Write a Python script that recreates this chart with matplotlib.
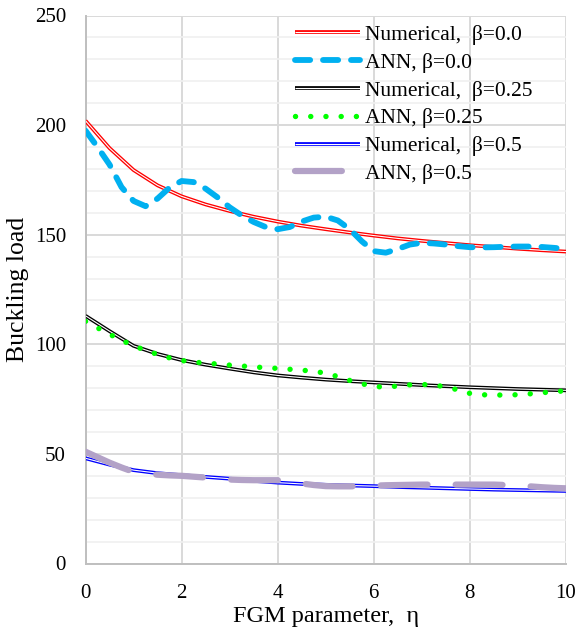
import numpy as np
import matplotlib
matplotlib.use("Agg")
import matplotlib.pyplot as plt
from matplotlib.ticker import MultipleLocator

plt.rcParams['font.family'] = ['Liberation Serif', 'DejaVu Serif']

# FGM parameter sampled every 0.5
eta = np.arange(0, 10.01, 0.5)

num_b00 = [202, 189.5, 179.5, 172.5, 167.5, 163.8, 160.8, 158.2, 156, 154.1, 152.5,
           151, 149.6, 148.3, 147.2, 146.2, 145.2, 144.4, 143.6, 142.9, 142.3]
num_b025 = [113, 106, 99.3, 95.6, 92.8, 90.7, 88.9, 87.2, 85.8, 84.8, 83.9,
            83.2, 82.6, 82.0, 81.4, 80.9, 80.4, 80.0, 79.6, 79.3, 79.0]
num_b05 = [48, 45.1, 42.6, 41.2, 40.3, 39.5, 38.7, 37.7, 36.9, 36.3, 35.9,
           35.6, 35.3, 34.9, 34.6, 34.3, 34.0, 33.7, 33.5, 33.3, 33.1]

# ANN predictions, sampled every 0.25
eta_ann = np.arange(0, 10.01, 0.25)
ann_b00 = [197.5, 190, 182, 171.7, 165.4, 163, 166.5, 171.5, 174.5, 174, 171,
           167, 162.5, 158.8, 155.8, 153.5, 152.5, 153.5, 156, 157.8, 158.2,
           156.5, 152.5, 147, 142.5, 141.8, 143.5, 145.5, 146.3, 146, 145.5,
           144.8, 144.3, 144.2, 144.3, 144.5, 144.6, 144.6, 144.4, 144, 143.5]
ann_b025 = [110.5, 107.5, 104.6, 101.8, 99.4, 97.2, 95.4, 93.8, 92.6, 91.9, 91.4,
            91.0, 90.5, 90.1, 89.7, 89.3, 89.0, 88.6, 88.2, 87.7, 86.8, 85.3,
            83.5, 82.0, 80.8, 80.4, 81.0, 81.5, 81.7, 81.4, 80.6, 79.2, 77.6,
            77.0, 76.8, 76.9, 77.0, 77.4, 77.9, 78.4, 78.8]
ann_b05 = [51, 48.5, 46, 43.8, 41.8, 41.0, 40.5, 40.2, 40.0, 39.6, 39.2, 38.7,
           38.3, 38.1, 38.0, 38.0, 38.0, 37.3, 36.5, 35.8, 35.3, 35.2, 35.2,
           35.3, 35.5, 35.7, 35.8, 35.9, 36.0, 36.0, 36.0, 36.0, 36.0, 36.0,
           36.0, 35.8, 35.5, 35.2, 34.8, 34.5, 34.3]

labels = ['Numerical,  β=0.0', 'ANN, β=0.0', 'Numerical,  β=0.25',
          'ANN, β=0.25', 'Numerical,  β=0.5', 'ANN, β=0.5']

fig = plt.figure(figsize=(5.79, 6.30), dpi=100)
ax = fig.add_axes([85.5/579, 1-563.5/630, 480.5/579, 548/630])


def double_line(x, y, color):
    # outlined line with a white core
    l1, = ax.plot(x, y, color=color, lw=2.7, solid_capstyle='butt', zorder=3)
    l2, = ax.plot(x, y, color='white', lw=0.8, solid_capstyle='butt', zorder=3)
    return (l1, l2)


h1 = double_line(eta, num_b00, '#ff0000')
h2, = ax.plot(eta_ann, ann_b00, color='#00b0f0', lw=4.2, ls=(0, (2.6, 2.2)),
              dash_capstyle='round', zorder=3)
h3 = double_line(eta, num_b025, '#000000')
h4, = ax.plot(eta_ann, ann_b025, color='#00ff00', lw=3.9, ls=(0, (0.01, 2.8)),
              dash_capstyle='round', zorder=3)
h5 = double_line(eta, num_b05, '#0000ff')
h6, = ax.plot(eta_ann, ann_b05, color='#b3a2c7', lw=4.5, ls=(0, (7.5, 4.5)),
              dash_capstyle='round', zorder=3)

ax.set_xlim(0, 10)
ax.set_ylim(0, 250)
ax.xaxis.set_major_locator(MultipleLocator(2))
ax.yaxis.set_major_locator(MultipleLocator(50))
ax.yaxis.set_minor_locator(MultipleLocator(10))
ax.grid(True, which='major', color='#d9d9d9', lw=1.4)
ax.grid(True, which='minor', axis='y', color='#f0f0f0', lw=1.2)
ax.set_axisbelow(True)
for s in ['top', 'right']:
    ax.spines[s].set_visible(False)
for s in ['left', 'bottom']:
    ax.spines[s].set_color('#bfbfbf')
    ax.spines[s].set_linewidth(1.4)
ax.tick_params(which='both', length=0, labelsize=15)
ax.tick_params(axis='y', pad=14)
ax.tick_params(axis='x', pad=15)

ax.set_xlabel('FGM parameter,  η', fontsize=17.5, labelpad=2)
ax.set_ylabel('Buckling load', fontsize=18.5, labelpad=4)

ax.legend([h1, h2, h3, h4, h5, h6], labels, loc='upper left',
          bbox_to_anchor=(0.437, 0.983), frameon=False, fontsize=15.5,
          handlelength=3.0, handletextpad=0.23, labelspacing=0.36,
          borderpad=0, borderaxespad=0)

fig.savefig('out.png', dpi=100)
